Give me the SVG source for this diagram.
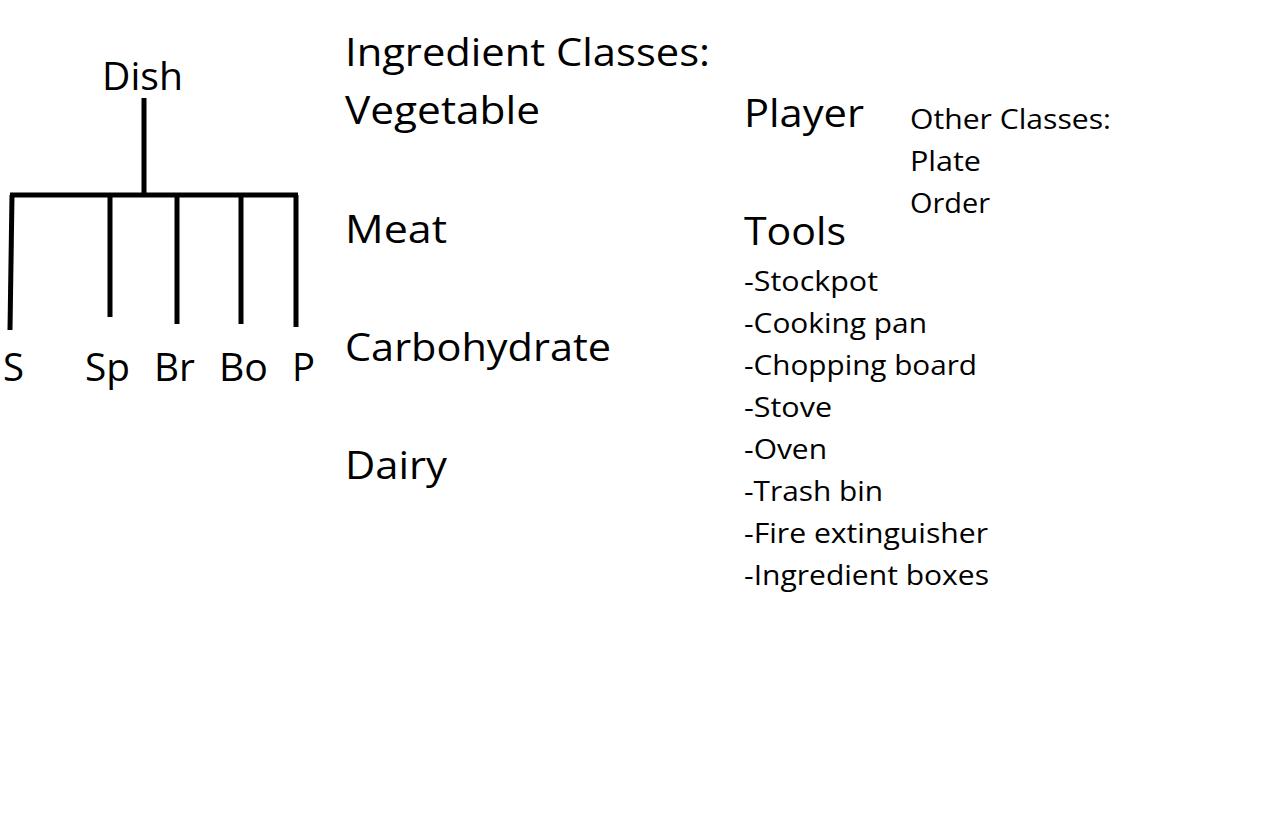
<svg xmlns="http://www.w3.org/2000/svg" width="1268" height="813" viewBox="0 0 1268 813">
<style>
text{font-family:"Open Sans","Noto Sans","DejaVu Sans",sans-serif;fill:#000}
.big{font-size:39px}
.small{font-size:27px}
.conn{stroke:#000;stroke-width:5;fill:none;stroke-linecap:butt;stroke-linejoin:miter}
</style>
<rect width="1268" height="813" fill="#fff"/>
<g id="connectors">
<path class="conn" d="M144 98 V195"/>
<path class="conn" d="M10 195 H298"/>
<path class="conn" d="M12 195 L10 330"/>
<path class="conn" d="M110 195 V317"/>
<path class="conn" d="M177 195 V324"/>
<path class="conn" d="M241 195 V324"/>
<path class="conn" d="M296 195 V327"/>
</g>
<g id="node-dish"><text class="big" x="102" y="90" textLength="81" lengthAdjust="spacingAndGlyphs">Dish</text></g>
<g id="node-s"><text class="big" x="3" y="381" textLength="21" lengthAdjust="spacingAndGlyphs">S</text></g>
<g id="node-sp"><text class="big" x="85" y="381" textLength="45" lengthAdjust="spacingAndGlyphs">Sp</text></g>
<g id="node-br"><text class="big" x="154" y="381" textLength="41" lengthAdjust="spacingAndGlyphs">Br</text></g>
<g id="node-bo"><text class="big" x="219" y="381" textLength="49" lengthAdjust="spacingAndGlyphs">Bo</text></g>
<g id="node-p"><text class="big" x="292" y="381" textLength="23" lengthAdjust="spacingAndGlyphs">P</text></g>
<g id="ingredient-classes">
<text class="big" x="345" y="66" textLength="365" lengthAdjust="spacingAndGlyphs">Ingredient Classes:</text>
<text class="big" x="345" y="124" textLength="195" lengthAdjust="spacingAndGlyphs">Vegetable</text>
<text class="big" x="345" y="243" textLength="102" lengthAdjust="spacingAndGlyphs">Meat</text>
<text class="big" x="345" y="361" textLength="266" lengthAdjust="spacingAndGlyphs">Carbohydrate</text>
<text class="big" x="345" y="479" textLength="102" lengthAdjust="spacingAndGlyphs">Dairy</text>
</g>
<g id="player"><text class="big" x="744" y="127" textLength="120" lengthAdjust="spacingAndGlyphs">Player</text></g>
<g id="other-classes">
<text class="small" x="910" y="129" textLength="201" lengthAdjust="spacingAndGlyphs">Other Classes:</text>
<text class="small" x="910" y="171" textLength="71" lengthAdjust="spacingAndGlyphs">Plate</text>
<text class="small" x="910" y="213" textLength="80" lengthAdjust="spacingAndGlyphs">Order</text>
</g>
<g id="tools">
<text class="big" x="744" y="245" textLength="102" lengthAdjust="spacingAndGlyphs">Tools</text>
<text class="small" x="744" y="291" textLength="134" lengthAdjust="spacingAndGlyphs">-Stockpot</text>
<text class="small" x="744" y="333" textLength="183" lengthAdjust="spacingAndGlyphs">-Cooking pan</text>
<text class="small" x="744" y="375" textLength="233" lengthAdjust="spacingAndGlyphs">-Chopping board</text>
<text class="small" x="744" y="417" textLength="88" lengthAdjust="spacingAndGlyphs">-Stove</text>
<text class="small" x="744" y="459" textLength="83" lengthAdjust="spacingAndGlyphs">-Oven</text>
<text class="small" x="744" y="501" textLength="139" lengthAdjust="spacingAndGlyphs">-Trash bin</text>
<text class="small" x="744" y="543" textLength="244" lengthAdjust="spacingAndGlyphs">-Fire extinguisher</text>
<text class="small" x="744" y="585" textLength="245" lengthAdjust="spacingAndGlyphs">-Ingredient boxes</text>
</g>
</svg>
